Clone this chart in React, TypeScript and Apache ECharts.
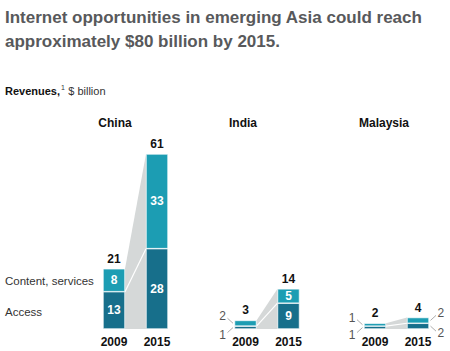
import React, { useEffect, useRef } from "react";
import * as echarts from "echarts";

const countries = ["China", "India", "Malaysia"];
const years = ["2009", "2015"];
const accessValues = [
  [13, 28],
  [1, 9],
  [1, 2],
];
const contentValues = [
  [8, 33],
  [2, 5],
  [1, 2],
];
const titleLines = [
  "Internet opportunities in emerging Asia could reach",
  "approximately $80 billion by 2015.",
];
const seriesNames = ["Access", "Content, services"];

const DARK = "#176f8b";
const LIGHT = "#1c9db3";
const GREY = "#d5d8d8";
const FONT = "'Liberation Sans', Arial, Helvetica, sans-serif";

const gridLefts = [92.5, 224, 353.5];
const titleXs = [115, 243, 384];
const GRID_W = 86;
const GRID_TOP = 154;
const GRID_BOTTOM = 22;
const BAR_W = 22;
const INSIDE_MIN = 5;

export default function App() {
  const ref = useRef<HTMLDivElement>(null);
  useEffect(() => {
    if (!ref.current) return;
    const chart = echarts.init(ref.current, undefined, { renderer: "svg" });
    const yMax = Math.max(...accessValues.map((a, g) => Math.max(a[0] + contentValues[g][0], a[1] + contentValues[g][1])));

    const grids: any[] = [];
    const xAxes: any[] = [];
    const yAxes: any[] = [];
    const series: any[] = [];

    countries.forEach((c, g) => {
      grids.push({ left: gridLefts[g], top: GRID_TOP, width: GRID_W, bottom: GRID_BOTTOM, containLabel: false, outerBoundsMode: "none" });
      xAxes.push({
        type: "category",
        gridIndex: g,
        data: years,
        axisLine: { show: false },
        axisTick: { show: false },
        axisLabel: { color: "#111", fontWeight: "bold", fontSize: 12, fontFamily: FONT, margin: 7 },
      });
      yAxes.push({ type: "value", gridIndex: g, min: 0, max: yMax, show: false, splitLine: { show: false } });

      const mkBar = (name: string, vals: number[], color: string) => ({
        type: "bar",
        name,
        xAxisIndex: g,
        yAxisIndex: g,
        stack: "s" + g,
        barWidth: BAR_W,
        z: 3,
        itemStyle: { color, borderColor: "#fff", borderWidth: 0.6 },
        data: vals.map((v) => ({
          value: v,
          label: {
            show: v >= INSIDE_MIN,
            position: "inside",
            color: "#fff",
            fontWeight: "bold",
            fontSize: 12,
            fontFamily: FONT,
          },
        })),
      });
      series.push(mkBar(seriesNames[0], accessValues[g], DARK));
      series.push(mkBar(seriesNames[1], contentValues[g], LIGHT));

      series.push({
        type: "custom",
        xAxisIndex: g,
        yAxisIndex: g,
        z: 1,
        silent: true,
        data: [[0, 0]],
        renderItem: (params: any, api: any) => {
          const acc = accessValues[g];
          const con = contentValues[g];
          const tot = [acc[0] + con[0], acc[1] + con[1]];
          const hw = BAR_W / 2;
          const b0 = api.coord([0, 0]);
          const b1 = api.coord([1, 0]);
          const a0 = api.coord([0, acc[0]]);
          const a1 = api.coord([1, acc[1]]);
          const t0 = api.coord([0, tot[0]]);
          const t1 = api.coord([1, tot[1]]);
          const children: any[] = [
            {
              type: "polygon",
              shape: {
                points: [
                  [b0[0] + hw, b0[1]],
                  [t0[0] + hw, t0[1]],
                  [t1[0] - hw, t1[1]],
                  [b1[0] - hw, b1[1]],
                ],
              },
              style: { fill: GREY },
            },
            {
              type: "line",
              shape: { x1: a0[0] + hw, y1: a0[1], x2: a1[0] - hw, y2: a1[1] },
              style: { stroke: "#fff", lineWidth: 1.2 },
            },
          ];
          [t0, t1].forEach((t, i) => {
            children.push({
              type: "text",
              x: t[0],
              y: t[1] - 10,
              style: {
                text: String(tot[i]),
                fill: "#111",
                font: `bold 12px ${FONT}`,
                align: "center",
                verticalAlign: "middle",
              },
            });
          });
          // outside labels for thin segments
          [0, 1].forEach((i) => {
            const vals = [acc[i], con[i]];
            if (vals.every((v) => v >= INSIDE_MIN)) return;
            const dir = i === 0 ? -1 : 1;
            const edge = api.coord([i, 0])[0] + dir * hw;
            const yAccMid = (api.coord([i, 0])[1] + api.coord([i, acc[i]])[1]) / 2;
            const yConMid = (api.coord([i, acc[i]])[1] + api.coord([i, acc[i] + con[i]])[1]) / 2;
            const items = [
              { v: acc[i], y: yAccMid, dy: 5 },
              { v: con[i], y: yConMid, dy: -5 },
            ];
            items.forEach((it) => {
              const x2 = edge + dir * 7;
              const y2 = it.y + it.dy;
              children.push({
                type: "line",
                shape: { x1: edge + dir * 1.5, y1: it.y, x2, y2 },
                style: { stroke: "#888", lineWidth: 0.7 },
              });
              children.push({
                type: "text",
                x: x2 + dir * 1.5,
                y: y2 + (it.dy > 0 ? 2 : -2),
                style: {
                  text: String(it.v),
                  fill: "#555",
                  font: `12px ${FONT}`,
                  align: dir < 0 ? "right" : "left",
                  verticalAlign: "middle",
                },
              });
            });
          });
          return { type: "group", children };
        },
      });
    });

    const graphic: any[] = [
      ...titleLines.map((t, i) => ({
        type: "text",
        left: 5,
        top: 9 + i * 24,
        style: { text: t, fill: "#58595b", font: `bold 17px ${FONT}` },
      })),
      {
        type: "text",
        left: 5,
        top: 84,
        style: {
          text: "{b|Revenues,}{s|1} {n|$ billion}",
          rich: {
            b: { fontWeight: "bold", fontSize: 11, fontFamily: FONT, fill: "#111" },
            s: { fontSize: 7, fontFamily: FONT, fill: "#333", padding: [0, 0, 6, 1] },
            n: { fontSize: 11, fontFamily: FONT, fill: "#333" },
          },
        },
      },
      ...countries.map((c, g) => ({
        type: "text",
        x: titleXs[g],
        y: 123,
        style: { text: c, fill: "#111", font: `bold 12px ${FONT}`, align: "center", verticalAlign: "middle" },
      })),
      {
        type: "text",
        x: 5,
        y: 281,
        style: { text: seriesNames[1], fill: "#333", font: `11.5px ${FONT}`, verticalAlign: "middle" },
      },
      {
        type: "text",
        x: 5,
        y: 312,
        style: { text: seriesNames[0], fill: "#333", font: `11.5px ${FONT}`, verticalAlign: "middle" },
      },
    ];

    chart.setOption({
      animation: false,
      backgroundColor: "#fff",
      grid: grids,
      xAxis: xAxes,
      yAxis: yAxes,
      series,
      graphic,
    });
    return () => chart.dispose();
  }, []);
  return <div ref={ref} style={{ width: 450, height: 351, position: "absolute", left: 0, top: 0 }} />;
}
